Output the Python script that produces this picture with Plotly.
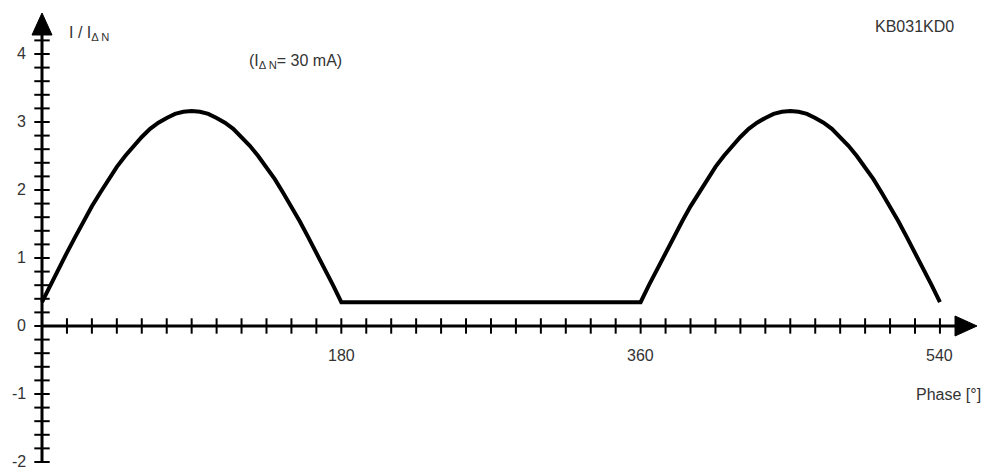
import plotly.graph_objects as go

# ---- data ----
phase = [0, 5, 10, 15, 20, 25, 30, 35, 40, 45, 50, 55, 60, 65, 70, 75, 80, 85, 90,
         95, 100, 105, 110, 115, 120, 125, 130, 135, 140, 145, 150, 155, 160, 165, 170, 175, 180,
         360, 365, 370, 375, 380, 385, 390, 395, 400, 405, 410, 415, 420, 425, 430, 435, 440, 445, 450,
         455, 460, 465, 470, 475, 480, 485, 490, 495, 500, 505, 510, 515, 520, 525, 530, 535, 540]
current = [0.35, 0.60, 0.84, 1.08, 1.31, 1.54, 1.76, 1.96, 2.16, 2.34, 2.50, 2.65, 2.78, 2.90, 2.99, 3.06, 3.12, 3.15, 3.16,
           3.15, 3.12, 3.06, 2.99, 2.90, 2.78, 2.65, 2.50, 2.34, 2.16, 1.96, 1.76, 1.54, 1.31, 1.08, 0.84, 0.60, 0.35,
           0.35, 0.60, 0.84, 1.08, 1.31, 1.54, 1.76, 1.96, 2.16, 2.34, 2.50, 2.65, 2.78, 2.90, 2.99, 3.06, 3.12, 3.15, 3.16,
           3.15, 3.12, 3.06, 2.99, 2.90, 2.78, 2.65, 2.50, 2.34, 2.16, 1.96, 1.76, 1.54, 1.31, 1.08, 0.84, 0.60, 0.35]

x_tick_labels = [180, 360, 540]
y_tick_labels = [4, 3, 2, 1, 0, -1, -2]
x_tick_pos = list(range(15, 541, 15))
y_tick_pos = [round(-2 + 0.2 * i, 1) for i in range(32)]  # -2.0 .. 4.2

# ---- geometry ----
W, H = 986, 473
X_RANGE = [-25.26, 567.7]
Y_RANGE = [-2.162, 4.794]
px_x = W / (X_RANGE[1] - X_RANGE[0])   # px per degree
px_y = H / (Y_RANGE[1] - Y_RANGE[0])   # px per unit

X_AXIS_END = 562.3   # arrow tip (deg)
Y_AXIS_END = 4.603   # arrow tip (unit)
Y_AXIS_START = -2.0
ARROW_LEN = 22       # px
ARROW_HALF = 10      # px

FONT = "Liberation Sans, Arial, sans-serif"
TXT = "#333333"

fig = go.Figure()

# axis lines
xa_base = X_AXIS_END - ARROW_LEN / px_x
ya_base = Y_AXIS_END - ARROW_LEN / px_y
fig.add_trace(go.Scatter(x=[0, xa_base], y=[0, 0], mode="lines",
                         line=dict(color="black", width=3), hoverinfo="skip"))
fig.add_trace(go.Scatter(x=[0, 0], y=[Y_AXIS_START, ya_base], mode="lines",
                         line=dict(color="black", width=3), hoverinfo="skip"))

# arrowheads
fig.add_shape(type="path", xref="x", yref="y",
              path=f"M {xa_base} {-ARROW_HALF/px_y} L {X_AXIS_END} 0 L {xa_base} {ARROW_HALF/px_y} Z",
              fillcolor="black", line=dict(color="black", width=1))
fig.add_shape(type="path", xref="x", yref="y",
              path=f"M {-ARROW_HALF/px_x} {ya_base} L 0 {Y_AXIS_END} L {ARROW_HALF/px_x} {ya_base} Z",
              fillcolor="black", line=dict(color="black", width=1))

# ticks crossing the axes
fig.add_trace(go.Scatter(x=x_tick_pos, y=[0] * len(x_tick_pos), mode="markers",
                         marker=dict(symbol="line-ns", size=11, line=dict(color="black", width=2)),
                         hoverinfo="skip"))
fig.add_trace(go.Scatter(x=[0] * len(y_tick_pos), y=y_tick_pos, mode="markers",
                         marker=dict(symbol="line-ew", size=11, line=dict(color="black", width=2)),
                         hoverinfo="skip"))

# the curve
fig.add_trace(go.Scatter(x=phase, y=current, mode="lines",
                         line=dict(color="black", width=4), hoverinfo="skip"))

# tick labels
for v in y_tick_labels:
    fig.add_annotation(x=0, y=v, xref="x", yref="y", text=str(v), showarrow=False,
                       xanchor="right", yanchor="middle", xshift=-14,
                       font=dict(family=FONT, size=16, color=TXT))
for v in x_tick_labels:
    fig.add_annotation(x=v, y=0, xref="x", yref="y", text=str(v), showarrow=False,
                       xanchor="center", yanchor="middle", yshift=-30,
                       font=dict(family=FONT, size=16, color=TXT))

# titles / texts
def pa(x, y, text, anchor):
    fig.add_annotation(x=x / W, y=1 - y / H, xref="paper", yref="paper", text=text,
                       showarrow=False, xanchor=anchor, yanchor="middle",
                       font=dict(family=FONT, size=16, color=TXT))

pa(67, 33, "I / I<sub>Δ N</sub>", "left")
pa(247, 61, "(I<sub>Δ N</sub>= 30 mA)", "left")
pa(956, 27, "KB031KD0", "right")
pa(983, 394, "Phase [°]", "right")

fig.update_layout(width=W, height=H, autosize=False,
                  margin=dict(l=0, r=0, t=0, b=0),
                  paper_bgcolor="white", plot_bgcolor="white",
                  showlegend=False,
                  xaxis=dict(range=X_RANGE, visible=False, fixedrange=True),
                  yaxis=dict(range=Y_RANGE, visible=False, fixedrange=True))

fig.write_html("out.html", config={"displayModeBar": False},
               post_script="document.body.style.margin='0';document.body.style.padding='0';")
